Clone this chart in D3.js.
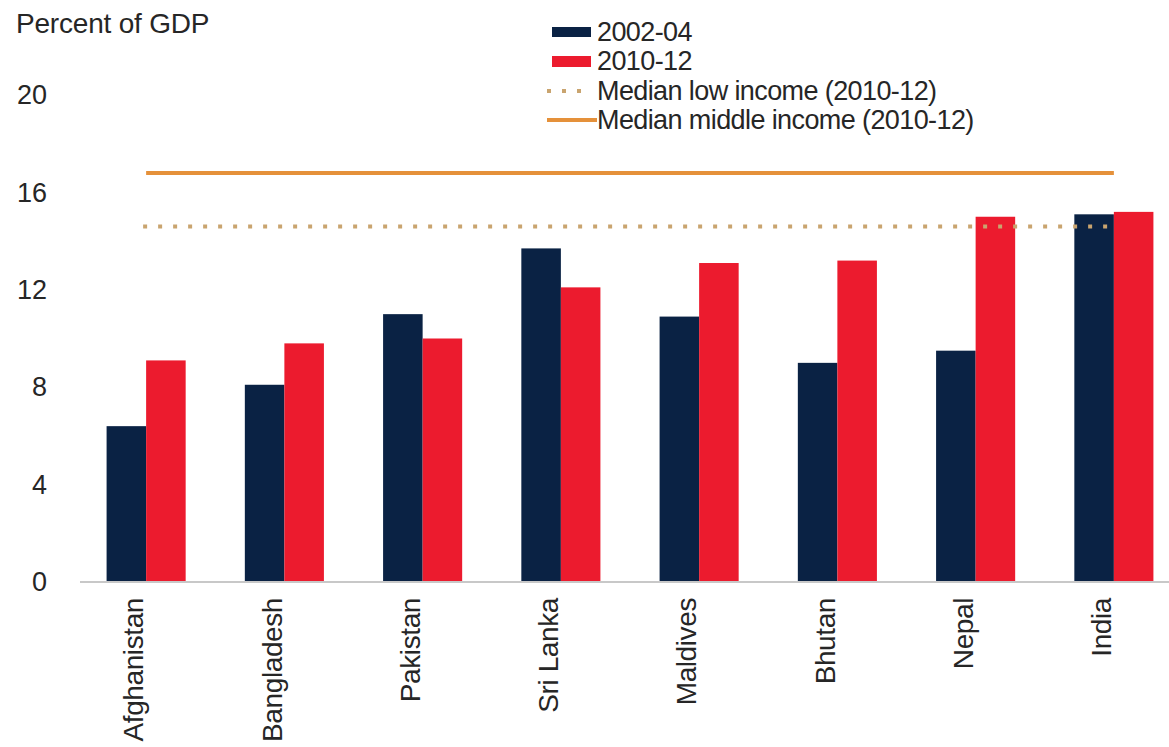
<!DOCTYPE html>
<html>
<head>
<meta charset="utf-8">
<script src="https://cdn.jsdelivr.net/npm/d3@7"></script>
<style>
  html, body { margin: 0; padding: 0; background: #fff; }
  svg { display: block; font-family: "Liberation Sans", Arial, Helvetica, sans-serif; }
</style>
</head>
<body>
<svg id="chart" width="1169" height="747"></svg>
<script>
const categories = ["Afghanistan", "Bangladesh", "Pakistan", "Sri Lanka", "Maldives", "Bhutan", "Nepal", "India"];
const series2002 = [6.4, 8.1, 11.0, 13.7, 10.9, 9.0, 9.5, 15.1];
const series2010 = [9.1, 9.8, 10.0, 12.1, 13.1, 13.2, 15.0, 15.2];
const medianLow = 14.6;
const medianMiddle = 16.8;
const yTicks = [0, 4, 8, 12, 16, 20];
const seriesNames = ["2002-04", "2010-12"];
const lineNames = ["Median low income (2010-12)", "Median middle income (2010-12)"];

const navy = "#0a2244", red = "#ec1b2e", orange = "#e5913a", dotCol = "#c9a46f";
const textCol = "#262626";
const svg = d3.select("#chart");

const x = d3.scaleBand().domain(categories).range([77, 1183]).paddingInner(0.428).paddingOuter(0.214);
const xs = d3.scaleBand().domain(seriesNames).range([0, x.bandwidth()]);
const y = d3.scaleLinear().domain([0, 20]).range([582, 95]);

// title
svg.append("text").attr("x", 16).attr("y", 33).attr("font-size", 28).attr("fill", textCol)
  .attr("letter-spacing", -0.2).text("Percent of GDP");

// y axis labels
const yAxis = svg.append("g").attr("transform", "translate(47,0)")
  .call(d3.axisLeft(y).tickValues(yTicks).tickSize(0).tickPadding(0).tickFormat(d3.format("d")));
yAxis.select(".domain").remove();
yAxis.selectAll("text").attr("font-size", 27).attr("fill", textCol).attr("font-family", "Liberation Sans, Arial, sans-serif");

// bars
const groups = svg.append("g").selectAll("g").data(categories).join("g")
  .attr("transform", d => `translate(${x(d)},0)`);
groups.append("rect")
  .attr("x", xs("2002-04")).attr("width", xs.bandwidth())
  .attr("y", (d, i) => y(series2002[i])).attr("height", (d, i) => y(0) - y(series2002[i]))
  .attr("fill", navy);
groups.append("rect")
  .attr("x", xs("2010-12")).attr("width", xs.bandwidth())
  .attr("y", (d, i) => y(series2010[i])).attr("height", (d, i) => y(0) - y(series2010[i]))
  .attr("fill", red);

// x axis
const xAxis = svg.append("g").attr("transform", `translate(0,${y(0)})`)
  .call(d3.axisBottom(x).tickSize(0).tickPadding(0));
xAxis.select(".domain").attr("stroke", "#c8c8c8").attr("stroke-width", 2)
  .attr("d", `M80,0H1169`);
xAxis.selectAll(".tick text")
  .attr("font-size", 28).attr("fill", textCol).attr("font-family", "Liberation Sans, Arial, sans-serif")
  .attr("text-anchor", "end").attr("transform", "rotate(-90)")
  .attr("x", -16).attr("y", 0).attr("dy", "-0.1em").attr("letter-spacing", -0.4);

// median lines (from first to last category centre)
const x0 = x(categories[0]) + x.bandwidth() / 2;
const x1 = x(categories[categories.length - 1]) + x.bandwidth() / 2;
svg.append("line").attr("x1", x0).attr("x2", x1).attr("y1", y(medianMiddle)).attr("y2", y(medianMiddle))
  .attr("stroke", orange).attr("stroke-width", 4);
svg.append("line").attr("x1", x0 - 3).attr("x2", x1).attr("y1", y(medianLow)).attr("y2", y(medianLow))
  .attr("stroke", dotCol).attr("stroke-width", 4).attr("stroke-dasharray", "4,11");

// legend
const lg = svg.append("g");
const rowY = [32, 61, 91, 120];
const lgX = 597;
lg.append("rect").attr("x", 552).attr("y", rowY[0] - 5).attr("width", 39).attr("height", 10).attr("fill", navy);
lg.append("rect").attr("x", 552).attr("y", rowY[1] - 5).attr("width", 39).attr("height", 11).attr("fill", red);
lg.append("line").attr("x1", 547).attr("x2", 586).attr("y1", rowY[2]).attr("y2", rowY[2])
  .attr("stroke", dotCol).attr("stroke-width", 4).attr("stroke-dasharray", "4,11");
lg.append("line").attr("x1", 547).attr("x2", 597).attr("y1", rowY[3]).attr("y2", rowY[3])
  .attr("stroke", orange).attr("stroke-width", 4);
const labels = seriesNames.concat(lineNames);
lg.selectAll("text.lab").data(labels).join("text").attr("class", "lab")
  .attr("x", lgX).attr("y", (d, i) => rowY[i]).attr("dy", "0.35em")
  .attr("font-size", 27).attr("fill", textCol).attr("letter-spacing", -0.6)
  .text(d => d);
</script>
</body>
</html>
